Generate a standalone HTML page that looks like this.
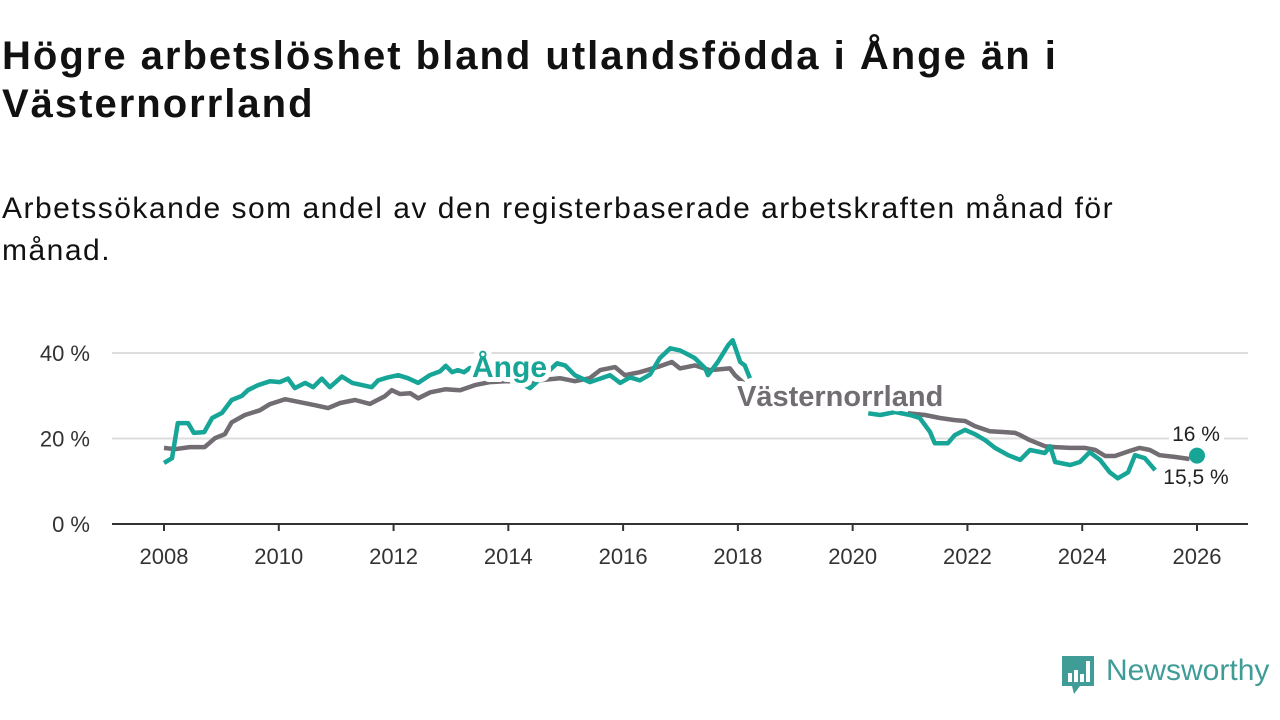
<!DOCTYPE html>
<html><head><meta charset="utf-8">
<style>
body{margin:0;width:1280px;height:720px;background:#fff;font-family:"Liberation Sans",sans-serif;overflow:hidden;position:relative}
h1{position:absolute;left:2px;top:32px;margin:0;font-size:40px;letter-spacing:2px;line-height:48px;font-weight:bold;color:#111;width:1070px}
p.sub{position:absolute;left:2px;top:188px;margin:0;font-size:30px;letter-spacing:1.5px;line-height:42px;color:#111;width:1200px}
svg{position:absolute;left:0;top:0}
</style></head><body>
<h1>Högre arbetslöshet bland utlandsfödda i Ånge än i Västernorrland</h1>
<p class="sub">Arbetssökande som andel av den registerbaserade arbetskraften månad för månad.</p>
<svg id="chart" width="1280" height="720"></svg>
<script>
const xTicks=[2008,2010,2012,2014,2016,2018,2020,2022,2024,2026];
const yTicks=[0,20,40];
const angeYears=[2008.00,2008.14,2008.24,2008.42,2008.52,2008.70,2008.84,2009.01,2009.18,2009.36,2009.46,2009.64,2009.85,2010.02,2010.16,2010.28,2010.46,2010.60,2010.75,2010.89,2011.10,2011.28,2011.45,2011.62,2011.73,2011.90,2012.08,2012.25,2012.43,2012.63,2012.81,2012.91,2013.02,2013.12,2013.23,2013.33,2013.6,2013.9,2014.2,2014.38,2014.64,2014.85,2014.99,2015.16,2015.42,2015.60,2015.77,2015.95,2016.12,2016.29,2016.47,2016.64,2016.82,2016.99,2017.08,2017.25,2017.43,2017.48,2017.65,2017.83,2017.91,2018.04,2018.12,2018.21,2019.0,2020.27,2020.48,2020.74,2021.00,2021.17,2021.35,2021.43,2021.66,2021.78,2021.96,2022.13,2022.31,2022.48,2022.71,2022.92,2023.09,2023.35,2023.44,2023.53,2023.79,2023.96,2024.13,2024.31,2024.48,2024.62,2024.80,2024.92,2025.09,2025.27];
const angeValues=[14.3,15.4,23.6,23.6,21.3,21.5,24.8,26,29,30,31.3,32.5,33.4,33.2,34,31.8,33,32,34,32,34.5,33,32.5,32,33.6,34.3,34.8,34.1,33,34.8,35.7,37,35.5,36,35.5,36.5,36,35,33,31.8,35,37.6,37.1,34.8,33.2,34,34.8,33,34.3,33.6,35,38.8,41.1,40.6,40,38.8,36.4,34.8,37.9,41.8,43,37.9,37.1,34.1,null,25.9,25.5,26.2,25.5,24.8,21.5,18.9,18.9,20.8,22,21,19.6,17.8,16.1,15,17.3,16.6,18.2,14.5,13.8,14.5,16.8,15,12.1,10.7,12.1,16.1,15.4,12.6];
const vnYears=[2008.00,2008.19,2008.45,2008.71,2008.89,2009.06,2009.18,2009.41,2009.67,2009.84,2010.11,2010.37,2010.63,2010.86,2011.07,2011.33,2011.59,2011.85,2011.97,2012.11,2012.29,2012.43,2012.64,2012.90,2013.16,2013.42,2013.68,2013.94,2014.38,2014.90,2015.16,2015.42,2015.60,2015.86,2016.03,2016.29,2016.64,2016.85,2016.99,2017.25,2017.51,2017.86,2017.95,2018.1,2019.0,2020.96,2021.26,2021.52,2021.78,2021.96,2022.13,2022.39,2022.65,2022.83,2022.92,2023.09,2023.35,2023.53,2023.79,2024.05,2024.23,2024.40,2024.57,2024.83,2025.00,2025.18,2025.35,2025.61,2025.87];
const vnValues=[17.8,17.5,18,18,20.1,21,23.8,25.5,26.6,28,29.2,28.5,27.8,27.1,28.3,29,28.1,29.9,31.3,30.4,30.6,29.4,30.8,31.5,31.3,32.5,33.2,33.4,33.4,34.1,33.4,34.1,36,36.7,34.8,35.5,36.9,37.9,36.4,37.1,36,36.4,34.8,33,null,25.9,25.5,24.8,24.3,24.1,22.9,21.7,21.5,21.3,20.8,19.6,18.2,18,17.8,17.8,17.3,15.9,15.9,17.1,17.8,17.3,16.1,15.7,15.2];
const endYear=2026, endVal=16;
const NS="http://www.w3.org/2000/svg";
const svg=document.getElementById('chart');
const X=y=>164+(y-2008)*(1197-164)/18;
const Y=v=>524-v*(524-353)/40;
function el(t,a,p){const e=document.createElementNS(NS,t);for(const k in a)e.setAttribute(k,a[k]);(p||svg).appendChild(e);return e;}
yTicks.forEach(t=>{
  if(t>0){const g=el('line',{x1:112,x2:1248,y1:Y(t),y2:Y(t),stroke:'#ddd','stroke-width':2});
  
  }
  const l=el('text',{x:90,y:Y(t)+8,'text-anchor':'end','font-size':22,fill:'#333'});l.textContent=t+' %';
  
  
});
const ax=el('line',{x1:112,x2:1248,y1:524,y2:524,stroke:'#333','stroke-width':2});


xTicks.forEach(t=>{
  const tk=el('line',{x1:X(t),x2:X(t),y1:524,y2:531,stroke:'#333','stroke-width':2});
  
  
  const l=el('text',{x:X(t),y:564,'text-anchor':'middle','font-size':22,fill:'#333'});l.textContent=t;
  
  
});
function line(ys,vs,c,name){
  let d='',pen=false;
  ys.forEach((y,i)=>{
    if(vs[i]===null){pen=false;return;}
    d+=(pen?'L':'M')+X(y).toFixed(1)+','+Y(vs[i]).toFixed(1);pen=true;
  });
  const p=el('path',{d:d,fill:'none',stroke:c,'stroke-width':4.5,'stroke-linejoin':'round'});
  
  
}
line(vnYears,vnValues,'#716d73','vasternorrland-line');
line(angeYears,angeValues,'#17a597','ange-line');
const dot=el('circle',{cx:X(endYear),cy:Y(endVal),r:8,fill:'#17a597'});


function lab(x,y,txt,c,sz,w,name,anchor){
  const t=el('text',{x:x,y:y,'font-size':sz,'font-weight':w,fill:c,stroke:'#fff','stroke-width':10,'paint-order':'stroke','stroke-linejoin':'round','text-anchor':anchor||'start'});
  t.textContent=txt;
  
  
}
lab(472,377,'Ånge','#17a597',30,'bold','ange-label');
lab(737,406,'Västernorrland','#716d73',29,'bold','vasternorrland-label');
lab(1196,441,'16 %','#222',21,'normal','ange-end-value','middle');
lab(1196,484,'15,5 %','#222',21,'normal','vasternorrland-end-value','middle');
</script>
<div style="position:absolute;left:1060px;top:656px;width:220px;height:40px">
  <svg width="36" height="42" viewBox="0 0 36 42" style="position:absolute;left:0;top:0">
    <path d="M2 0H34V30H20L14 38L12 30H2Z" fill="#3f9c97"/>
    <rect x="8" y="17" width="4" height="9" fill="#fff"/><rect x="14" y="14" width="4" height="12" fill="#fff"/><rect x="20" y="18" width="4" height="8" fill="#fff"/><rect x="26" y="5" width="4" height="21" fill="#fff"/>
  </svg>
  <span style="position:absolute;left:46px;top:-2px;font-size:30px;color:#3f9c97;font-family:'Liberation Sans',sans-serif">Newsworthy</span>
</div>
</body></html>
